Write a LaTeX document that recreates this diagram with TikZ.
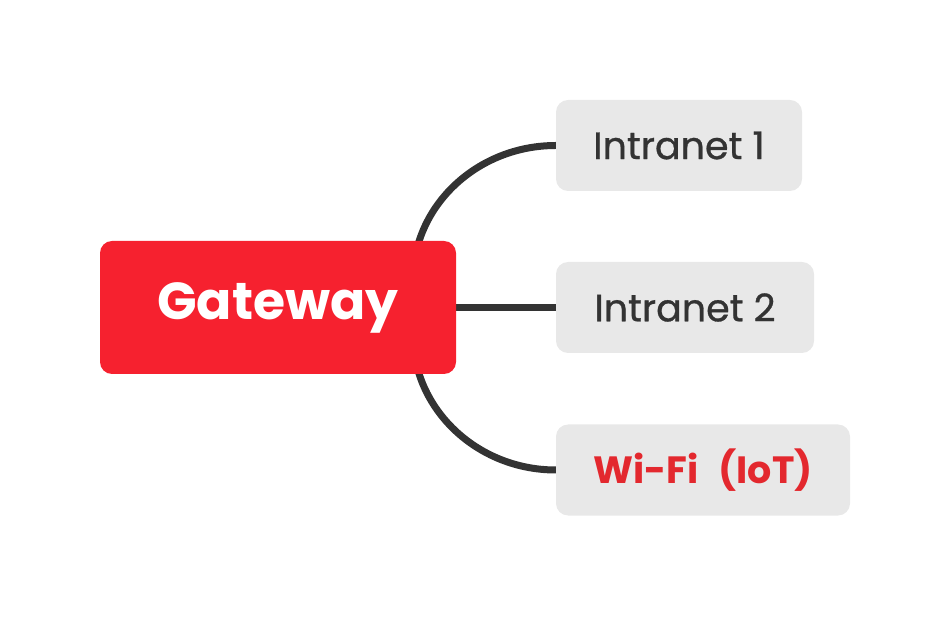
\documentclass[tikz,border=0pt]{standalone}
\usepackage{fontspec}
\setmainfont{Poppins}
\usetikzlibrary{backgrounds}

\definecolor{gwred}{HTML}{F6212F}
\definecolor{boxgray}{HTML}{E8E8E8}
\definecolor{linegray}{HTML}{333333}
\definecolor{textred}{HTML}{E3282E}
\definecolor{textdark}{HTML}{333333}

\tikzset{
  rootbox/.style={fill=gwred, rounded corners=12pt, minimum width=356pt,
    minimum height=133pt, text=white, font=\fontsize{52}{62}\selectfont\bfseries},
  leafbox/.style={fill=boxgray, rounded corners=12pt, minimum height=91pt,
    text=textdark, font=\fontsize{38}{46}\selectfont\addfontfeatures{FakeBold=0.8}},
  link/.style={draw=linegray, line width=7pt},
}

\begin{document}
\begin{tikzpicture}[x=1pt,y=1pt]
\useasboundingbox (0,0) rectangle (950,616);

\node[rootbox] (gw) at (278,308.5) {Gateway}; %root

\node[leafbox, minimum width=246pt] (in1) at (679,470.5) {Intranet 1};
\node[leafbox, minimum width=258pt] (in2) at (685,308.5) {Intranet 2};
\node[leafbox, minimum width=294pt, text=textred, font=\fontsize{38}{46}\selectfont\bfseries] (wifi) at (703,146) {Wi-Fi\hspace{20pt}(IoT)};

\coordinate (fork) at (413,308.5);

\begin{scope}[on background layer]
\draw[link] (fork) -- (413,336) .. controls (413,410) and (477,470.5) .. (in1.west); %up
\draw[link] (gw.east) -- (in2.west); %middle
\draw[link] (fork) -- (413,281) .. controls (413,207) and (477,146) .. (wifi.west); %down
\end{scope}

\end{tikzpicture}
\end{document}
